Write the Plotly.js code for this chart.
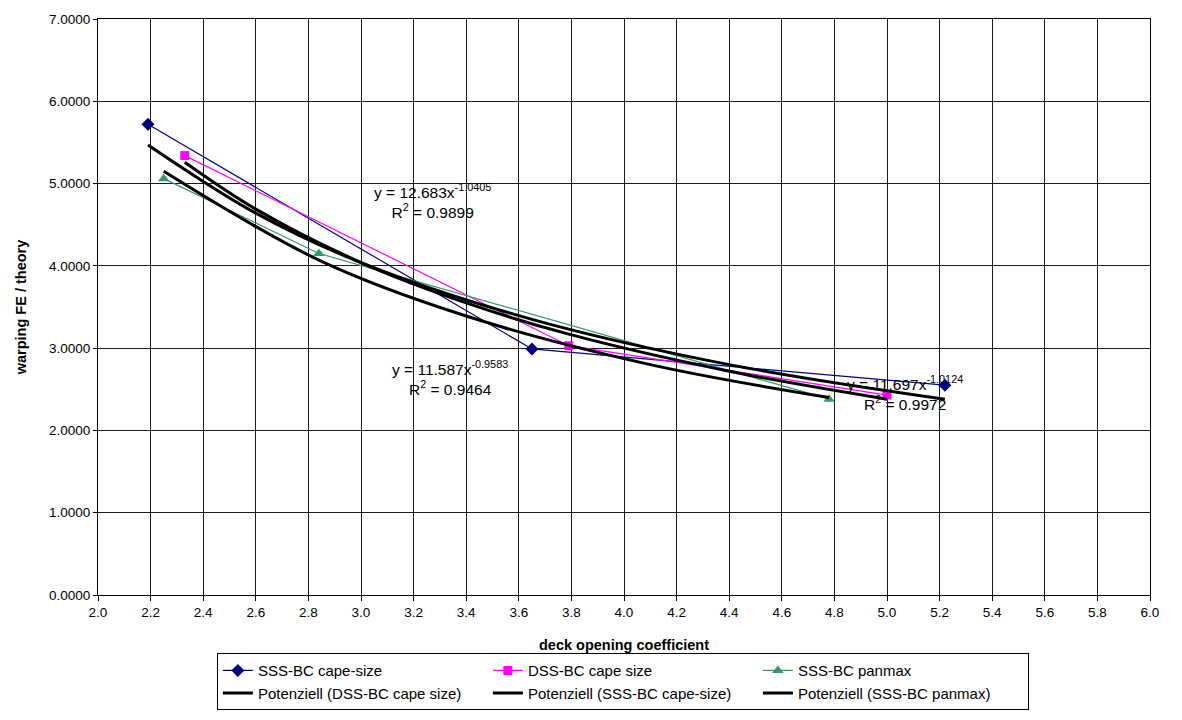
<!DOCTYPE html>
<html>
<head>
<meta charset="utf-8">
<script src="https://cdn.plot.ly/plotly-3.0.1.min.js"></script>
<style>html,body{margin:0;padding:0;background:#fff;}#chart{width:1182px;height:720px;}</style>
</head>
<body>
<div id="chart"></div>
<script>
// Measured data series
const sssCapeX = [2.19, 3.65, 5.22];
const sssCapeY = [5.72, 2.99, 2.55];
const dssCapeX = [2.33, 3.79, 5.00];
const dssCapeY = [5.34, 3.03, 2.43];
const panmaxX = [2.25, 2.84, 4.78];
const panmaxY = [5.06, 4.15, 2.38];

// Trendline values
const trendDssX = [2.33, 2.6, 3.0, 3.4, 3.79, 4.4, 5.0];
const trendDssY = [5.26, 4.69, 4.04, 3.55, 3.17, 2.72, 2.38];
const trendSssX = [2.19, 2.6, 3.0, 3.65, 4.4, 5.22];
const trendSssY = [5.47, 4.64, 4.04, 3.35, 2.80, 2.38];
const trendPanX = [2.25, 2.84, 3.4, 4.1, 4.78];
const trendPanY = [5.15, 4.07, 3.39, 2.80, 2.40];

const legendNames = [
  'SSS-BC cape-size', 'DSS-BC cape size', 'SSS-BC panmax',
  'Potenziell (DSS-BC cape size)', 'Potenziell (SSS-BC cape-size)', 'Potenziell (SSS-BC panmax)'
];
const eqTexts = [
  'y = 12.683x<sup>-1.0405</sup><br>R<sup>2</sup> = 0.9899',
  'y = 11.587x<sup>-0.9583</sup><br>R<sup>2</sup> = 0.9464',
  'y = 11.697x<sup>-1.0124</sup><br>R<sup>2</sup> = 0.9972'
];
const eqPosX = [3.27, 3.34, 5.07];
const eqPosY = [4.79, 2.64, 2.46];

const traces = [
  {x: sssCapeX, y: sssCapeY, name: legendNames[0], mode: 'lines+markers', legendrank: 1,
   line: {color: '#000080', width: 1.2}, marker: {symbol: 'diamond', size: 10, color: '#000080'}},
  {x: dssCapeX, y: dssCapeY, name: legendNames[1], mode: 'lines+markers', legendrank: 2,
   line: {color: '#FF00FF', width: 1.2}, marker: {symbol: 'square', size: 9, color: '#FF00FF'}},
  {x: panmaxX, y: panmaxY, name: legendNames[2], mode: 'lines+markers', legendrank: 3,
   line: {color: '#339966', width: 1.2}, marker: {symbol: 'triangle-up', size: 10, color: '#339966'}},
  {x: trendDssX, y: trendDssY, name: legendNames[3], mode: 'lines', legendrank: 4,
   line: {color: '#000', width: 3, shape: 'spline'}},
  {x: trendSssX, y: trendSssY, name: legendNames[4], mode: 'lines', legendrank: 5,
   line: {color: '#000', width: 3, shape: 'spline'}},
  {x: trendPanX, y: trendPanY, name: legendNames[5], mode: 'lines', legendrank: 6,
   line: {color: '#000', width: 3, shape: 'spline'}}
];

const annotations = eqTexts.map((t, i) => ({
  x: eqPosX[i], y: eqPosY[i], xref: 'x', yref: 'y', text: t, showarrow: false,
  font: {family: 'Liberation Sans, Arial, sans-serif', size: 15.5, color: '#000'}, align: 'center'
}));

const layout = {
  width: 1182, height: 720,
  margin: {l: 98, r: 32, t: 19, b: 125, autoexpand: false},
  paper_bgcolor: '#fff', plot_bgcolor: '#fff',
  font: {family: 'Liberation Sans, Arial, sans-serif', size: 13.5, color: '#000'},
  showlegend: true,
  xaxis: {
    range: [2, 6], dtick: 0.2, tick0: 2, tickformat: '.1f',
    showgrid: true, gridcolor: '#1a1a1a', gridwidth: 1,
    showline: true, linecolor: '#000', linewidth: 1, mirror: true,
    ticks: 'outside', ticklen: 5, tickcolor: '#000', zeroline: false,
    tickfont: {size: 13.5}, ticklabelstandoff: 0,
    title: {text: '<b>deck opening coefficient</b>', font: {size: 14.5}, standoff: 20}
  },
  yaxis: {
    range: [0, 7], dtick: 1, tickformat: '.4f',
    showgrid: true, gridcolor: '#1a1a1a', gridwidth: 1,
    showline: true, linecolor: '#000', linewidth: 1, mirror: true,
    ticks: 'outside', ticklen: 4, tickcolor: '#000', zeroline: false,
    tickfont: {size: 13.5}, ticklabelstandoff: 0,
    title: {text: '<b>warping FE / theory</b>', font: {size: 14.5}, standoff: 18}
  },
  legend: {
    orientation: 'h', x: 0.113, xanchor: 'left', y: -0.101, yanchor: 'top',
    entrywidth: 225, entrywidthmode: 'pixels', itemwidth: 30,
    bordercolor: '#000', borderwidth: 1, bgcolor: '#fff',
    font: {size: 15}, tracegroupgap: 0
  },
  annotations: annotations
};

Plotly.newPlot('chart', traces, layout, {displayModeBar: false, staticPlot: true});
</script>
</body>
</html>
